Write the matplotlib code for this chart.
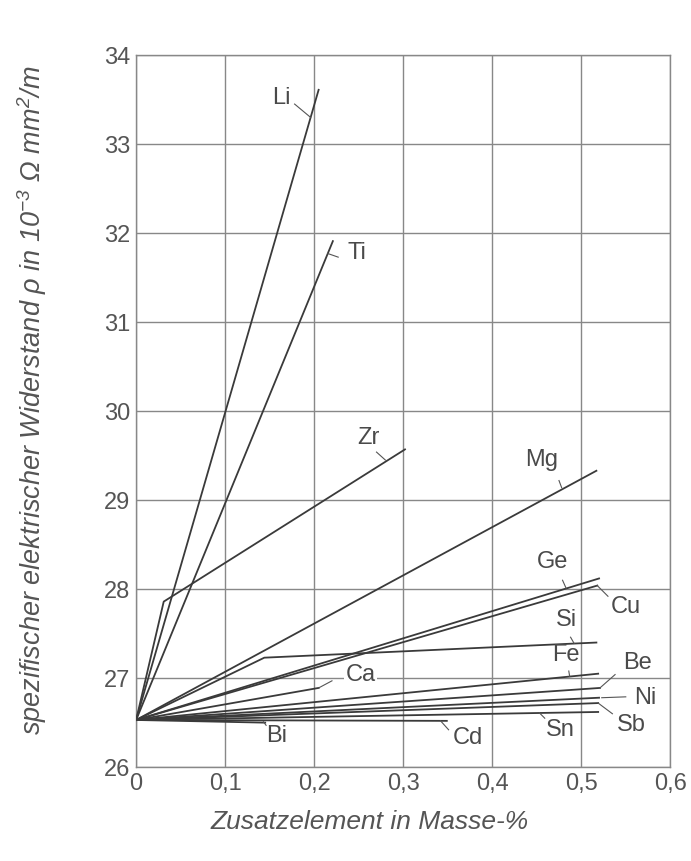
import matplotlib
matplotlib.use("Agg")
import matplotlib.pyplot as plt
import numpy as np

plt.rcParams['font.family'] = ['Liberation Sans', 'DejaVu Sans']
plt.rcParams['mathtext.fontset'] = 'custom'
plt.rcParams['mathtext.rm'] = 'Liberation Sans:italic'
plt.rcParams['mathtext.it'] = 'Liberation Sans:italic'

# Werte (Masse-%, Widerstand in 10^-3 Ohm mm2/m)
basis = 26.53
elemente = ['Li', 'Ti', 'Zr', 'Mg', 'Ge', 'Cu', 'Si', 'Ca', 'Fe', 'Be', 'Ni', 'Sb', 'Sn', 'Cd', 'Bi']
x_werte = [[0, 0.205], [0, 0.221], [0, 0.031, 0.302], [0, 0.517], [0, 0.520], [0, 0.518],
           [0, 0.144, 0.517], [0, 0.205], [0, 0.519], [0, 0.521], [0, 0.520], [0, 0.519],
           [0, 0.519], [0, 0.349], [0, 0.145]]
y_werte = [[basis, 33.61], [basis, 31.91], [basis, 27.86, 29.57], [basis, 29.33], [basis, 28.12],
           [basis, 28.04], [basis, 27.23, 27.40], [basis, 26.89], [basis, 27.05], [basis, 26.89],
           [basis, 26.78], [basis, 26.72], [basis, 26.62], [basis, 26.52], [basis, 26.50]]

x_ticks = [0, 0.1, 0.2, 0.3, 0.4, 0.5, 0.6]
x_tick_labels = ['0', '0,1', '0,2', '0,3', '0,4', '0,5', '0,6']
y_ticks = [26, 27, 28, 29, 30, 31, 32, 33, 34]

# Beschriftung: Textposition und Hinweisstrich (Start, Ende)
beschriftung = {
    'Li': ((0.163, 33.52), (0.178, 33.45), (0.196, 33.30)),
    'Ti': ((0.248, 31.78), (0.2155, 31.77), (0.227, 31.73)),
    'Zr': ((0.261, 29.70), (0.270, 29.54), (0.280, 29.45)),
    'Mg': ((0.456, 29.45), (0.475, 29.22), (0.478, 29.14)),
    'Ge': ((0.468, 28.31), (0.479, 28.10), (0.483, 28.01)),
    'Cu': ((0.550, 27.80), (0.518, 28.04), (0.530, 27.92)),
    'Si': ((0.483, 27.65), (0.488, 27.46), (0.492, 27.39)),
    'Ca': ((0.252, 27.03), (0.205, 26.89), (0.220, 26.97)),
    'Fe': ((0.483, 27.26), (0.486, 27.08), (0.487, 27.02)),
    'Be': ((0.563, 27.17), (0.521, 26.89), (0.538, 27.04)),
    'Ni': ((0.572, 26.78), (0.523, 26.78), (0.550, 26.79)),
    'Sb': ((0.556, 26.47), (0.519, 26.72), (0.535, 26.60)),
    'Sn': ((0.476, 26.42), (0.453, 26.61), (0.459, 26.55)),
    'Cd': ((0.373, 26.33), (0.342, 26.52), (0.351, 26.42)),
    'Bi': ((0.158, 26.35), (0.143, 26.51), (0.146, 26.47)),
}

fig = plt.figure(figsize=(6.91, 8.61), dpi=100)
ax = fig.add_axes([0.197, 0.109, 0.773, 0.827])

for name, xs, ys in zip(elemente, x_werte, y_werte):
    ax.plot(xs, ys, color='#3a3a3a', lw=1.3, zorder=3)
    (tx, ty), p1, p2 = beschriftung[name]
    ax.plot([p1[0], p2[0]], [p1[1], p2[1]], color='#555555', lw=0.8, zorder=3)
    bbox = None
    if name == 'Ca':
        bbox = dict(facecolor='white', edgecolor='none', pad=1)
    ax.text(tx, ty, name, fontsize=17, color='#4a4a4a', ha='center', va='center',
            bbox=bbox, zorder=4)

ax.set_xlim(0, 0.6)
ax.set_ylim(26, 34)
ax.set_xticks(x_ticks)
ax.set_xticklabels(x_tick_labels)
ax.set_yticks(y_ticks)
ax.tick_params(length=0, labelsize=17, labelcolor='#555555', pad=4)
ax.grid(True, color='#888888', lw=1.0)
ax.set_axisbelow(True)
for s in ax.spines.values():
    s.set_color('#888888')
    s.set_linewidth(1.0)

fig.text(0.047, 0.535, r'spezifischer elektrischer Widerstand $\rho$ in 10$^{-3}$ $\Omega$ mm$^2$/m',
         rotation=90, ha='center', va='center', fontsize=19.5, style='italic', color='#555555')
fig.text(0.535, 0.045, 'Zusatzelement in Masse-%', ha='center', va='center',
         fontsize=19, style='italic', color='#555555')

fig.savefig('out.png', dpi=100)
